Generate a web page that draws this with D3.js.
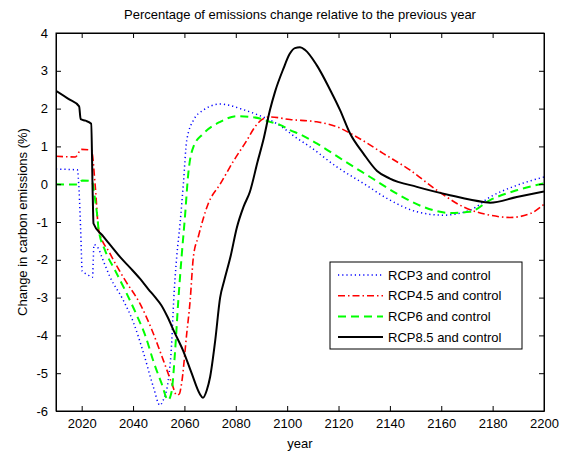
<!DOCTYPE html>
<html><head><meta charset="utf-8">
<script src="https://cdn.jsdelivr.net/npm/d3@7"></script>
<style>body{margin:0;background:#fff}svg{display:block}text{font-family:"Liberation Sans",Arial,sans-serif}</style>
</head><body><svg id="c" width="563" height="454"></svg>
<script>
const xTicks = [2020,2040,2060,2080,2100,2120,2140,2160,2180,2200];
const yTicks = [-6,-5,-4,-3,-2,-1,0,1,2,3,4];
const seriesNames = ["RCP3 and control","RCP4.5 and control","RCP6 and control","RCP8.5 and control"];

const rcp3 = [[2010,0.4],[2018.3,0.38],[2019,-0.2],[2019.6,-1.2],[2020.2,-2.3],[2022,-2.38],[2024.2,-2.46],[2024.8,-1.6],[2026.5,-1.7],[2027.8,-1.92],[2031,-2.45],[2036.2,-3.07],[2040.1,-3.65],[2044,-4.45],[2047.9,-5.36],[2050.5,-5.85],[2051.5,-5.75],[2053.7,-5.19],[2055.1,-4.13],[2055.8,-3.1],[2057,-1.92],[2058.3,-1.04],[2059.6,0.02],[2060.9,1.16],[2063.5,1.69],[2067.4,1.96],[2073.9,2.12],[2078,2.08],[2081.7,2.0],[2088,1.85],[2097.2,1.55],[2103.7,1.22],[2108.9,0.99],[2119.3,0.46],[2129.7,0.02],[2140,-0.42],[2150.5,-0.73],[2160.8,-0.82],[2171.2,-0.69],[2179,-0.34],[2189.4,-0.03],[2200,0.19]];
const rcp45 = [[2010,0.74],[2017.5,0.72],[2019.9,0.92],[2023.8,0.9],[2025.3,-0.07],[2026.6,-1.2],[2031,-1.83],[2036.9,-2.54],[2042.7,-3.16],[2047.3,-3.85],[2051.8,-4.66],[2055.1,-5.27],[2057,-5.58],[2058,-5.55],[2058.9,-5.27],[2060.9,-3.95],[2062.2,-3.1],[2063.5,-1.92],[2065.4,-1.39],[2069.3,-0.51],[2073.9,0.0],[2079,0.6],[2084.3,1.16],[2087.5,1.52],[2090,1.7],[2093.3,1.78],[2101.1,1.71],[2111.5,1.65],[2119.3,1.52],[2127.1,1.25],[2137.5,0.81],[2147.9,0.37],[2158.3,-0.16],[2168.6,-0.6],[2179,-0.82],[2186.8,-0.88],[2194.6,-0.78],[2200,-0.53]];
const rcp6 = [[2010,0.0],[2017.5,-0.01],[2019.5,0.06],[2020.2,0.1],[2024,0.08],[2025,-0.3],[2026,-0.8],[2026.6,-1.2],[2029.1,-1.75],[2033,-2.28],[2037,-2.82],[2041,-3.4],[2045,-4.05],[2048,-4.7],[2051,-5.25],[2053.7,-5.71],[2054.5,-5.62],[2055.1,-5.45],[2056.3,-4.48],[2057.6,-3.1],[2058.9,-1.92],[2060.2,-0.87],[2061.5,0.28],[2063.5,0.99],[2067.4,1.34],[2073.9,1.65],[2080.4,1.8],[2085.5,1.78],[2089.4,1.74],[2093.3,1.65],[2097.2,1.57],[2101.1,1.43],[2105,1.32],[2111.5,1.08],[2121.9,0.63],[2132.3,0.19],[2142.7,-0.25],[2153,-0.6],[2163.4,-0.76],[2171.2,-0.73],[2179,-0.42],[2189.4,-0.16],[2200,0.02]];
const rcp85 = [[2010,2.47],[2015,2.25],[2019,2.06],[2019.6,1.72],[2021.5,1.68],[2023.7,1.6],[2024.3,-0.3],[2024.6,-1.04],[2028,-1.35],[2031,-1.6],[2035,-1.93],[2039,-2.22],[2042.7,-2.5],[2046,-2.78],[2048.5,-2.98],[2051,-3.2],[2053.5,-3.52],[2056,-3.9],[2059.6,-4.42],[2062.8,-5.0],[2066,-5.55],[2067.2,-5.65],[2068.7,-5.45],[2070,-5.1],[2072,-4.13],[2073.9,-3.0],[2075.5,-2.55],[2078,-1.9],[2080.4,-1.15],[2083,-0.6],[2085.5,-0.2],[2088.5,0.6],[2090.7,1.16],[2093.3,1.96],[2095.3,2.45],[2098.5,3.05],[2101,3.45],[2103,3.6],[2105,3.62],[2107,3.55],[2111.5,3.15],[2116.7,2.5],[2120.6,1.96],[2124.5,1.34],[2129.7,0.81],[2135,0.35],[2140,0.15],[2150.5,-0.07],[2163.4,-0.29],[2176.4,-0.47],[2179,-0.49],[2189.4,-0.34],[2200,-0.19]];

const L=56,R=544,T=33,B=411;
const svg=d3.select("#c");
const x=d3.scaleLinear().domain([2010,2200]).range([L,R]);
const y=d3.scaleLinear().domain([-6,4]).range([B,T]);

svg.append("defs").append("clipPath").attr("id","clip").append("rect").attr("x",L).attr("y",T).attr("width",R-L).attr("height",B-T);

const styles=[
 {data:rcp3,color:"#0000ff",w:1.5,dash:"1.2,3"},
 {data:rcp45,color:"#ff0000",w:1.6,dash:"7,3,1.5,3"},
 {data:rcp6,color:"#00ff00",w:2,dash:"8,5"},
 {data:rcp85,color:"#000000",w:2,dash:null}
];
const line=d3.line().x(d=>x(d[0])).y(d=>y(d[1])).curve(d3.curveMonotoneX);
const g=svg.append("g").attr("clip-path","url(#clip)");
styles.forEach(s=>{
  g.append("path").datum(s.data).attr("d",line).attr("fill","none")
   .attr("stroke",s.color).attr("stroke-width",s.w)
   .attr("stroke-dasharray",s.dash).attr("stroke-linejoin","round");
});

// axes (MATLAB style, ticks inward on all sides)
const fs="13px";
const fmt=d=>String(d);
const xb=svg.append("g").attr("transform",`translate(0,${B})`).call(d3.axisBottom(x).tickValues(xTicks).tickFormat(fmt).tickSizeInner(-5).tickSizeOuter(0).tickPadding(8));
const xt=svg.append("g").attr("transform",`translate(0,${T})`).call(d3.axisTop(x).tickValues(xTicks).tickFormat("").tickSizeInner(-5).tickSizeOuter(0));
const yl=svg.append("g").attr("transform",`translate(${L},0)`).call(d3.axisLeft(y).tickValues(yTicks).tickFormat(fmt).tickSizeInner(-5).tickSizeOuter(0).tickPadding(8));
const yr=svg.append("g").attr("transform",`translate(${R},0)`).call(d3.axisRight(y).tickValues(yTicks).tickFormat("").tickSizeInner(-5).tickSizeOuter(0));
[xb,xt,yl,yr].forEach(a=>{a.selectAll("path,line").attr("stroke","#000");a.selectAll("text").attr("fill","#000").style("font-size",fs).style("font-family","'Liberation Sans',Arial,sans-serif");});
svg.append("rect").attr("x",L).attr("y",T).attr("width",R-L).attr("height",B-T).attr("fill","none").attr("stroke","#000").attr("stroke-width",1);

svg.append("text").attr("x",300).attr("y",19).attr("text-anchor","middle").style("font-size","13px").text("Percentage of emissions change relative to the previous year");
svg.append("text").attr("x",300).attr("y",448).attr("text-anchor","middle").style("font-size","13px").text("year");
svg.append("text").attr("transform","translate(27,222) rotate(-90)").attr("text-anchor","middle").style("font-size","13px").text("Change in carbon emissions (%)");

// legend
const lg=svg.append("g");
lg.append("rect").attr("x",330).attr("y",262).attr("width",192).attr("height",87).attr("fill","#fff").attr("stroke","#000").attr("stroke-width",1);
seriesNames.forEach((n,i)=>{
  const yy=275+i*20.7; const s=styles[i];
  lg.append("line").attr("x1",338).attr("x2",383).attr("y1",yy).attr("y2",yy).attr("stroke",s.color).attr("stroke-width",s.w).attr("stroke-dasharray",s.dash);
  lg.append("text").attr("x",388).attr("y",yy+4.5).style("font-size","13px").text(n);
});
</script></body></html>
